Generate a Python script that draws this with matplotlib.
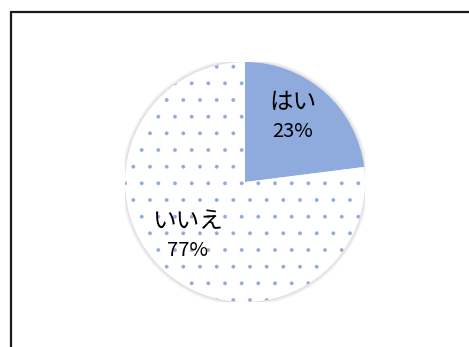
import matplotlib.pyplot as plt
from matplotlib.patches import Rectangle, Circle

plt.rcParams['font.family'] = ['Noto Sans CJK JP', 'DejaVu Sans']
plt.rcParams['hatch.linewidth'] = 0.3

# data
labels = ['はい', 'いいえ']
values = [23, 77]
colors = ['#8FAADC', 'white']
hatches = ['', '.']

fig = plt.figure(figsize=(4.69, 3.47), dpi=100)

# chart frame
fig.patches.append(Rectangle((11 / 469, -0.05), 1.1, 1 - 12 / 347 + 0.05,
                             transform=fig.transFigure, fill=False,
                             edgecolor='#1a1a1a', linewidth=1.6))

ax = fig.add_axes([125 / 469, 45 / 347, 240 / 469, 240 / 347])

wedges, _ = ax.pie(values, colors=colors, startangle=90, counterclock=False,
                   radius=1, wedgeprops=dict(linewidth=0))
for w, h in zip(wedges, hatches):
    if h:
        w.set_hatch(h)
        w.set_edgecolor('#8FAADC')

# soft shadow
for r in [1.03, 1.02, 1.012, 1.005]:
    ax.add_patch(Circle((0, 0), r, color='#b0b0b0', alpha=0.12, lw=0, zorder=0))

ax.set_xlim(-1, 1)
ax.set_ylim(-1, 1)
ax.axis('off')

# labels
pct = [str(v) + '%' for v in values]
pos = [(0.40, 0.66, 0.42), (-0.48, -0.33, -0.575)]
for lab, p, (x, y1, y2) in zip(labels, pct, pos):
    ax.text(x, y1, lab, ha='center', va='center', fontsize=17)
    ax.text(x, y2, p, ha='center', va='center', fontsize=14.5)

fig.savefig('out.png', dpi=100)
